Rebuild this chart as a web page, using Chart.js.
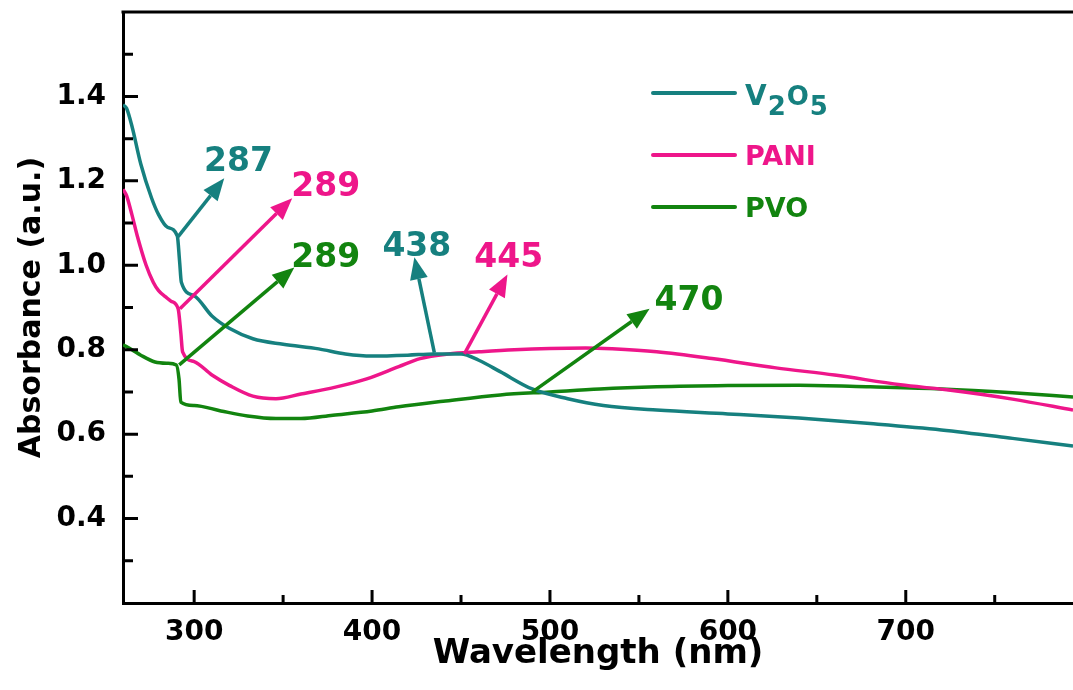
<!DOCTYPE html>
<html>
<head>
<meta charset="utf-8">
<title>Absorbance spectra</title>
<script src="https://cdn.jsdelivr.net/npm/chart.js@4.4.1/dist/chart.umd.min.js"></script>
<style>
  html, body { margin: 0; padding: 0; background: #fff; overflow: hidden; }
  canvas { display: block; }
</style>
</head>
<body>
<canvas id="absChart" width="1073" height="690"></canvas>
<script>
// Spectra: wavelength (nm) and absorbance (a.u.)
const v2o5Wl  = [260, 262, 265, 270, 276, 280, 285, 290.5, 291.8, 292.8, 300, 310, 320, 333, 350, 370, 385, 400, 420, 435, 450, 460, 472, 490, 510, 530, 560, 600, 640, 680, 720, 760, 794];
const v2o5Abs = [1.38, 1.372, 1.33, 1.24, 1.16, 1.12, 1.09, 1.07, 1.01, 0.96, 0.928, 0.88, 0.85, 0.826, 0.813, 0.802, 0.79, 0.785, 0.787, 0.79, 0.79, 0.775, 0.748, 0.707, 0.684, 0.668, 0.657, 0.648, 0.638, 0.625, 0.61, 0.59, 0.572];

const paniWl  = [260, 262, 265, 268, 273, 277, 280, 284, 287, 291, 292.5, 293.5, 300, 310, 320, 333, 346, 360, 380, 397, 415, 427, 443, 460, 480, 500, 520, 535, 560, 591, 627, 660, 697, 723, 760, 794];
const paniAbs = [1.18, 1.165, 1.12, 1.07, 1.0, 0.96, 0.94, 0.925, 0.915, 0.897, 0.84, 0.795, 0.772, 0.74, 0.715, 0.69, 0.684, 0.695, 0.712, 0.731, 0.76, 0.779, 0.79, 0.795, 0.8, 0.803, 0.804, 0.802, 0.795, 0.779, 0.757, 0.74, 0.717, 0.705, 0.683, 0.657];

const pvoWl  = [260, 265, 270, 278, 285, 290, 291.5, 292.5, 300, 315, 330, 346, 360, 378, 400, 415, 440, 472, 500, 528, 560, 600, 640, 680, 720, 760, 794];
const pvoAbs = [0.812, 0.8, 0.787, 0.771, 0.768, 0.764, 0.73, 0.676, 0.668, 0.655, 0.643, 0.637, 0.637, 0.645, 0.655, 0.665, 0.678, 0.693, 0.7, 0.707, 0.712, 0.715, 0.716, 0.712, 0.707, 0.698, 0.688];

const seriesNames = ['V2O5', 'PANI', 'PVO'];
const seriesColors = ['#16807f', '#ee168a', '#12840f'];

// axis ticks
const xTicks = [300, 350, 400, 450, 500, 550, 600, 650, 700, 750];
const yTicks = [0.3, 0.4, 0.5, 0.6, 0.7, 0.8, 0.9, 1.0, 1.1, 1.2, 1.3, 1.4, 1.5];

// peak markers: arrow from the curve to the tip, label next to it (data coords)
const peakLabels = ['287', '289', '289', '438', '445', '470'];
const peakSeries = [0, 1, 2, 0, 1, 2];
const peakFrom = [[291, 1.068], [292, 0.897], [291.6, 0.764], [435, 0.793], [451.9, 0.79], [490.2, 0.70]];
const peakTip  = [[316.9, 1.206], [355.1, 1.159], [356.3, 0.995], [423.8, 1.019], [476.1, 0.978], [556, 0.897]];
const peakText = [[305.6, 1.223], [354.6, 1.163], [354.6, 0.997], [405.8, 1.023], [457.5, 0.997], [558.8, 0.893]];

const FONT = '"DejaVu Sans", "Liberation Sans", Arial, sans-serif';

function toPoints(xs, ys) {
    return xs.map((x, i) => ({ x: x, y: ys[i] }));
}

const isMajorX = v => v % 100 === 0;
const isMajorY = v => Math.round(v * 10) % 2 === 0;

// inward ticks + top frame line
const framePlugin = {
    id: 'frame',
    afterDatasetsDraw(chart) {
        const { ctx, chartArea, scales } = chart;
        ctx.save();
        ctx.strokeStyle = '#000';
        ctx.lineWidth = 3;
        ctx.lineCap = 'butt';
        ctx.beginPath();
        ctx.moveTo(chartArea.left - 1.5, chartArea.top);
        ctx.lineTo(chartArea.right, chartArea.top);
        xTicks.forEach(v => {
            const px = scales.x.getPixelForValue(v);
            ctx.moveTo(px, chartArea.bottom);
            ctx.lineTo(px, chartArea.bottom - (isMajorX(v) ? 13 : 8));
        });
        yTicks.forEach(v => {
            const py = scales.y.getPixelForValue(v);
            ctx.moveTo(chartArea.left, py);
            ctx.lineTo(chartArea.left + (isMajorY(v) ? 15 : 10), py);
        });
        ctx.stroke();
        ctx.restore();
    }
};

function drawArrow(ctx, x0, y0, x1, y1, color) {
    const ang = Math.atan2(y1 - y0, x1 - x0);
    const headLen = 22, headHalf = 9;
    const bx = x1 - headLen * Math.cos(ang);
    const by = y1 - headLen * Math.sin(ang);
    ctx.strokeStyle = color;
    ctx.fillStyle = color;
    ctx.lineWidth = 3.5;
    ctx.beginPath();
    ctx.moveTo(x0, y0);
    ctx.lineTo(bx, by);
    ctx.stroke();
    ctx.beginPath();
    ctx.moveTo(x1, y1);
    ctx.lineTo(bx + headHalf * Math.sin(ang), by - headHalf * Math.cos(ang));
    ctx.lineTo(bx - headHalf * Math.sin(ang), by + headHalf * Math.cos(ang));
    ctx.closePath();
    ctx.fill();
}

// arrows, peak numbers and the legend inside the plot
const annotPlugin = {
    id: 'annot',
    afterDraw(chart) {
        const { ctx, scales } = chart;
        const xs = scales.x, ys = scales.y;
        ctx.save();
        peakLabels.forEach((lbl, i) => {
            const col = seriesColors[peakSeries[i]];
            drawArrow(ctx,
                xs.getPixelForValue(peakFrom[i][0]), ys.getPixelForValue(peakFrom[i][1]),
                xs.getPixelForValue(peakTip[i][0]), ys.getPixelForValue(peakTip[i][1]), col);
            ctx.font = 'bold 33px ' + FONT;
            ctx.textAlign = 'left';
            ctx.textBaseline = 'alphabetic';
            ctx.fillText(lbl, xs.getPixelForValue(peakText[i][0]), ys.getPixelForValue(peakText[i][1]));
        });

        // legend
        const lx0 = 653, lx1 = 735, tx = 745;
        const rows = [93, 155, 207];
        ctx.lineWidth = 4;
        ctx.lineCap = 'round';
        rows.forEach((y, i) => {
            const col = seriesColors[i];
            ctx.strokeStyle = col;
            ctx.fillStyle = col;
            ctx.beginPath();
            ctx.moveTo(lx0, y);
            ctx.lineTo(lx1, y);
            ctx.stroke();
            ctx.textAlign = 'left';
            ctx.textBaseline = 'alphabetic';
            if (i === 0) {
                // V2O5 with subscripts
                let x = tx;
                const parts = [['V', 28, 0], ['2', 26, 10], ['O', 26, 0], ['5', 26, 10]];
                parts.forEach(p => {
                    ctx.font = 'bold ' + p[1] + 'px ' + FONT;
                    ctx.fillText(p[0], x, y + 12 + p[2]);
                    x += ctx.measureText(p[0]).width + 1;
                });
            } else {
                ctx.font = 'bold 27px ' + FONT;
                ctx.fillText(seriesNames[i], tx, y + 10);
            }
        });
        ctx.restore();
    }
};

const ctx = document.getElementById('absChart');

new Chart(ctx, {
    type: 'line',
    data: {
        datasets: [
            { label: seriesNames[0], data: toPoints(v2o5Wl, v2o5Abs), borderColor: seriesColors[0] },
            { label: seriesNames[1], data: toPoints(paniWl, paniAbs), borderColor: seriesColors[1] },
            { label: seriesNames[2], data: toPoints(pvoWl, pvoAbs), borderColor: seriesColors[2] }
        ]
    },
    options: {
        responsive: false,
        animation: false,
        events: [],
        elements: {
            point: { radius: 0 },
            line: { borderWidth: 3.5, cubicInterpolationMode: 'monotone', fill: false }
        },
        layout: { padding: { top: 12, right: 0, left: 0, bottom: 0 } },
        plugins: {
            legend: { display: false },
            tooltip: { enabled: false }
        },
        scales: {
            x: {
                type: 'linear',
                min: 260,
                max: 794,
                afterBuildTicks: scale => { scale.ticks = xTicks.map(v => ({ value: v })); },
                afterFit: scale => {
                    scale.height = 87;
                    scale.paddingLeft = 0;
                    scale.paddingRight = 0;
                },
                grid: { display: false, drawTicks: false },
                border: { display: true, color: '#000', width: 3 },
                ticks: {
                    padding: 13,
                    color: '#000',
                    maxRotation: 0,
                    autoSkip: false,
                    font: { family: FONT, weight: 'bold', size: 28 },
                    callback: v => isMajorX(v) ? String(v) : ''
                },
                title: {
                    display: true,
                    text: 'Wavelength (nm)',
                    color: '#000',
                    font: { family: FONT, weight: 'bold', size: 34, lineHeight: 1.2 },
                    padding: { top: 0, bottom: 15 }
                }
            },
            y: {
                type: 'linear',
                min: 0.2,
                max: 1.6,
                afterBuildTicks: scale => { scale.ticks = yTicks.map(v => ({ value: v })); },
                afterFit: scale => {
                    scale.width = 123;
                    scale.paddingTop = 0;
                    scale.paddingBottom = 0;
                },
                grid: { display: false, drawTicks: false },
                border: { display: true, color: '#000', width: 3 },
                ticks: {
                    padding: 17,
                    color: '#000',
                    autoSkip: false,
                    font: { family: FONT, weight: 'bold', size: 28 },
                    callback: v => isMajorY(v) ? v.toFixed(1) : ''
                },
                title: {
                    display: true,
                    text: 'Absorbance (a.u.)',
                    color: '#000',
                    font: { family: FONT, weight: 'bold', size: 30, lineHeight: 1.2 },
                    padding: { top: 14, bottom: 0 }
                }
            }
        }
    },
    plugins: [framePlugin, annotPlugin]
});
</script>
</body>
</html>
